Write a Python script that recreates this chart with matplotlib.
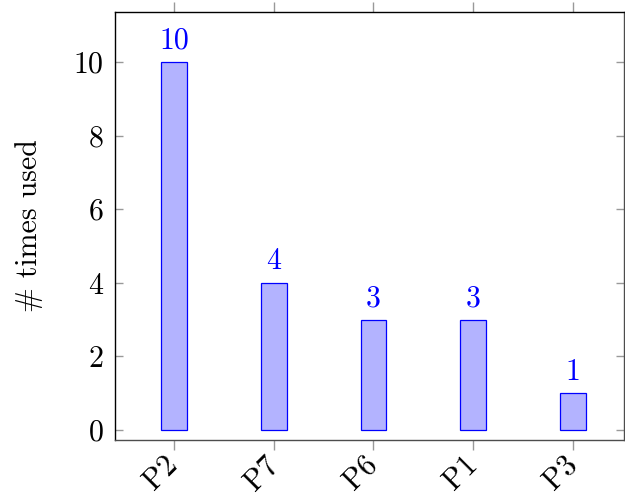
import numpy as np
import matplotlib.pyplot as plt

# data
categories = ['P2', 'P7', 'P6', 'P1', 'P3']
times_used = [10, 4, 3, 3, 1]

plt.rcParams['font.family'] = ['cmr10', 'DejaVu Serif']
plt.rcParams['mathtext.fontset'] = 'cm'
plt.rcParams['axes.formatter.use_mathtext'] = True

fig = plt.figure(figsize=(6.25, 4.96), dpi=100)
ax = fig.add_axes([115 / 625, 56 / 496, 509 / 625, 428 / 496])

x = np.arange(len(categories))
ax.bar(x, times_used, width=0.26, color=(0.7, 0.7, 1.0), edgecolor='blue', linewidth=0.9)

for xi, v in zip(x, times_used):
    ax.text(xi, v + 0.2, str(v), ha='center', va='bottom', color='blue', fontsize=21.5)

ax.set_xlim(-0.59, 4.51)
ax.set_ylim(-0.27, 11.36)
ax.set_xticks(x)
ax.set_xticklabels(categories, rotation=45, ha='right', va='center', rotation_mode='anchor', fontsize=21.5)
ax.set_yticks([0, 2, 4, 6, 8, 10])
ax.tick_params(axis='y', labelsize=21.5, direction='in', right=True, color='0.6', length=6, width=1, pad=8)
ax.tick_params(axis='x', direction='out', top=True, color='0.6', length=7, width=1, pad=8)
ax.set_ylabel('# times used', fontsize=21.5, labelpad=22)

for s in ax.spines.values():
    s.set_linewidth(1)
ax.spines['bottom'].set_color('0.3')
ax.spines['right'].set_color('0.3')

fig.savefig('out.png', dpi=100)
